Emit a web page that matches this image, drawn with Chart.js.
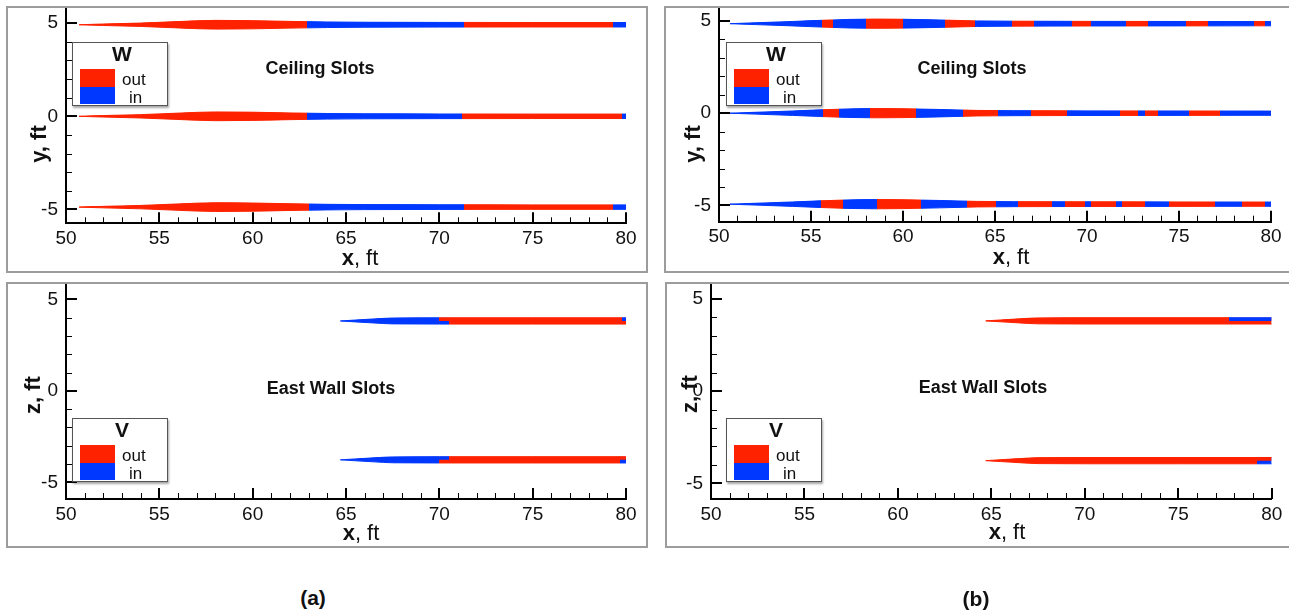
<!DOCTYPE html>
<html>
<head>
<meta charset="utf-8">
<script src="https://cdn.jsdelivr.net/npm/chart.js@4.4.0/dist/chart.umd.min.js"></script>
<style>
  body { margin: 0; width: 1289px; height: 611px; overflow: hidden; background: #fff; position: relative;
         font-family: "Liberation Sans", Arial, sans-serif; color: #111; }
  .box { position: absolute; border: 2px solid #9c9c9c; box-sizing: border-box; }
  canvas { position: absolute; }
  .t { position: absolute; white-space: nowrap; transform: translate(-50%, -50%); line-height: 1; }
  .note { font-weight: bold; font-size: 18px; }
  .xt { font-size: 22px; }
  .yt { font-size: 22px; font-weight: bold; transform: translate(-50%, -50%) rotate(-90deg); }
  .cap { font-weight: bold; font-size: 21px; }
  .legend { position: absolute; width: 96px; height: 64px; border: 1px solid #555; background: #fff;
            box-shadow: 1px 2px 2px rgba(0,0,0,.35); box-sizing: border-box; }
  .legend b { position: absolute; left: 49px; top: 0; transform: translateX(-50%); font-size: 21px; line-height: 21px; }
  .legend i { position: absolute; left: 7px; width: 35px; }
  .legend .out { top: 26px; height: 18px; background: #ff2200; }
  .legend .in { top: 44px; height: 17px; background: #0038ff; }
  .legend span { position: absolute; font-size: 17px; line-height: 17px; }
  .legend .l1 { left: 49px; top: 28px; }
  .legend .l2 { left: 56px; top: 46px; }
</style>
</head>
<body>

<div class="box" style="left:6px;top:6px;width:642px;height:267px"></div>
<div class="box" style="left:6px;top:282px;width:642px;height:266px"></div>
<div class="box" style="left:664px;top:6px;width:640px;height:267px"></div>
<div class="box" style="left:665px;top:282px;width:640px;height:266px"></div>

<canvas id="aTop" width="638" height="263" style="left:8px;top:8px"></canvas>
<canvas id="aBot" width="638" height="262" style="left:8px;top:284px"></canvas>
<canvas id="bTop" width="623" height="263" style="left:666px;top:8px"></canvas>
<canvas id="bBot" width="622" height="262" style="left:667px;top:284px"></canvas>

<div class="t note" style="left:320px;top:68px">Ceiling Slots</div>
<div class="t note" style="left:972px;top:68px">Ceiling Slots</div>
<div class="t note" style="left:331px;top:388px">East Wall Slots</div>
<div class="t note" style="left:983px;top:387px">East Wall Slots</div>

<div class="t yt" style="left:39px;top:144px">y, ft</div>
<div class="t xt" style="left:360px;top:258px"><b>x</b>, ft</div>
<div class="t yt" style="left:33px;top:395px">z, ft</div>
<div class="t xt" style="left:361px;top:533px"><b>x</b>, ft</div>
<div class="t yt" style="left:693px;top:144px">y, ft</div>
<div class="t xt" style="left:1011px;top:257px"><b>x</b>, ft</div>
<div class="t yt" style="left:690px;top:394px">z, ft</div>
<div class="t xt" style="left:1007px;top:532px"><b>x</b>, ft</div>

<div class="legend" style="left:72px;top:42px"><b>W</b><i class="out"></i><i class="in"></i><span class="l1">out</span><span class="l2">in</span></div>
<div class="legend" style="left:726px;top:42px"><b>W</b><i class="out"></i><i class="in"></i><span class="l1">out</span><span class="l2">in</span></div>
<div class="legend" style="left:72px;top:418px"><b>V</b><i class="out"></i><i class="in"></i><span class="l1">out</span><span class="l2">in</span></div>
<div class="legend" style="left:726px;top:418px"><b>V</b><i class="out"></i><i class="in"></i><span class="l1">out</span><span class="l2">in</span></div>

<div class="t cap" style="left:313px;top:597px">(a)</div>
<div class="t cap" style="left:976px;top:598px">(b)</div>

<script>
// slot outlines: x (ft) and half width (ft)
var ceilXa  = [50.7, 52, 54, 56, 58, 60, 62, 64, 66, 70, 75, 80];
var ceilHwA = [0, 0.04, 0.09, 0.17, 0.235, 0.22, 0.18, 0.15, 0.135, 0.125, 0.12, 0.12];
var ceilXb  = [50.6, 52, 54, 55.5, 57, 58.5, 60, 62, 64, 66, 70, 75, 80];
var ceilHwB = [0, 0.05, 0.12, 0.18, 0.23, 0.25, 0.24, 0.2, 0.15, 0.135, 0.125, 0.12, 0.115];
var wallX   = [64.7, 65.5, 66.5, 67.5, 70, 75, 80];
var wallHw  = [0, 0.05, 0.11, 0.16, 0.17, 0.17, 0.17];

// slot centre lines (ft)
var ceilYa = [4.92, 0, -4.88];
var ceilYb = [4.85, 0, -4.93];
var wallZa = [3.82, -3.77];
var wallZb = [3.81, -3.77];

// x (ft) where the flow flips between out and in, along each slot
var aCeilTop = [62.9, 71.3, 79.3];
var aCeilMid = [62.9, 71.2, 79.8];
var aCeilBot = [63.0, 71.3, 79.3];
var aWallUpTop = [70.0, 79.8];
var aWallUpBot = [70.5];
var aWallLoTop = [70.5];
var aWallLoBot = [70.0, 79.7];

var bCeilTop = [55.6, 56.2, 58.0, 60.0, 62.3, 63.9, 65.9, 67.1, 69.2, 70.2, 72.1, 73.3, 75.4, 76.6, 79.1, 79.7];
var bCeilMid = [55.64, 56.53, 58.22, 60.69, 63.27, 65.15, 66.93, 68.91, 71.78, 72.77, 73.13, 73.86, 75.54, 77.23];
var bCeilBot = [55.54, 56.73, 58.61, 60.99, 63.46, 65.05, 66.24, 68.12, 68.81, 69.9, 70.2, 71.58, 71.88, 73.17, 74.45, 76.93, 78.41, 79.7];
var bWallUpTop = [77.7];
var bWallUpBot = [];
var bWallLoTop = [];
var bWallLoBot = [79.2];

var xTicks = [50, 55, 60, 65, 70, 75, 80];
var yTicks = [-5, 0, 5];

var colors = { out: '#ff2200', in: '#0038ff' };

function stripes(flips, first) {
  return function (ctx) {
    var chart = ctx.chart;
    if (!chart.chartArea) return colors[first];
    var x = chart.scales.x;
    var x0 = x.getPixelForValue(50), x1 = x.getPixelForValue(80);
    var g = chart.ctx.createLinearGradient(x0, 0, x1, 0);
    var c = first;
    g.addColorStop(0, colors[c]);
    flips.forEach(function (f) {
      var t = (x.getPixelForValue(f) - x0) / (x1 - x0);
      g.addColorStop(t, colors[c]);
      c = c == 'out' ? 'in' : 'out';
      g.addColorStop(t, colors[c]);
    });
    g.addColorStop(1, colors[c]);
    return g;
  };
}

// three lines per slot: top edge, centre, bottom edge.
// datasets are painted last-to-first, so the bottom edge fills the whole slot
// with the lower colours and the centre line then paints the upper half over it
function slot(xs, hw, yc, upper, lower, first) {
  var edge = function (s) {
    return xs.map(function (x, i) { return { x: x, y: yc + s * hw[i] }; });
  };
  return [
    { data: edge(1), fill: false, borderWidth: 1, borderColor: stripes(upper, first) },
    { data: edge(0), fill: '-1', borderWidth: 0, backgroundColor: stripes(upper, first) },
    { data: edge(-1), fill: '-2', borderWidth: 1, borderColor: stripes(lower, first), backgroundColor: stripes(lower, first) }
  ];
}

var tickMarks = {
  id: 'tickMarks',
  afterDraw: function (chart) {
    var ctx = chart.ctx, a = chart.chartArea, x = chart.scales.x, y = chart.scales.y;
    ctx.save();
    ctx.strokeStyle = '#000';
    for (var v = 50; v <= 80; v++) {
      var major = v % 5 == 0;
      var px = Math.round(x.getPixelForValue(v)) + (major ? 0 : 0.5);
      ctx.lineWidth = major ? 2 : 1;
      ctx.beginPath();
      ctx.moveTo(px, a.bottom);
      ctx.lineTo(px, a.bottom - (major ? 11 : 6));
      ctx.stroke();
    }
    for (var w = Math.ceil(y.min); w <= Math.floor(y.max); w++) {
      var maj = w % 5 == 0;
      var py = Math.round(y.getPixelForValue(w)) + (maj ? 0 : 0.5);
      ctx.lineWidth = maj ? 2 : 1;
      ctx.beginPath();
      ctx.moveTo(a.left, py);
      ctx.lineTo(a.left + (maj ? 11 : 6), py);
      ctx.stroke();
    }
    ctx.restore();
  }
};

function panel(id, sets, g) {
  var cv = document.getElementById(id);
  var cl = parseFloat(cv.style.left), ct = parseFloat(cv.style.top);
  var xAxisH = 30;
  var font = { family: '"Liberation Sans", Arial, sans-serif', size: 19 };
  new Chart(cv, {
    type: 'line',
    data: { datasets: sets },
    options: {
      responsive: false,
      animation: false,
      devicePixelRatio: 1,
      layout: {
        padding: {
          left: 0,
          top: g.top - ct,
          right: cl + cv.width - g.right,
          bottom: ct + cv.height - g.bottom - xAxisH
        }
      },
      elements: {
        line: { cubicInterpolationMode: 'monotone' },
        point: { radius: 0 }
      },
      plugins: { legend: { display: false }, tooltip: { enabled: false } },
      scales: {
        x: {
          type: 'linear', min: 50, max: 80,
          afterBuildTicks: function (s) { s.ticks = xTicks.map(function (v) { return { value: v }; }); },
          ticks: { font: font, color: '#111', padding: 4, maxRotation: 0, autoSkip: false },
          grid: { display: false, drawTicks: false },
          border: { display: true, color: '#000', width: 2 },
          afterFit: function (s) { s.height = xAxisH; s.paddingLeft = 0; s.paddingRight = 0; }
        },
        y: {
          type: 'linear', min: g.ymin, max: g.ymax,
          afterBuildTicks: function (s) { s.ticks = yTicks.map(function (v) { return { value: v }; }); },
          ticks: { font: font, color: '#111', padding: 8, autoSkip: false },
          grid: { display: false, drawTicks: false },
          border: { display: true, color: '#000', width: 2 },
          afterFit: function (s) { s.width = g.left - cl; s.paddingTop = 0; s.paddingBottom = 0; }
        }
      }
    },
    plugins: [tickMarks]
  });
}

panel('aTop', [].concat(
  slot(ceilXa, ceilHwA, ceilYa[0], aCeilTop, aCeilTop, 'out'),
  slot(ceilXa, ceilHwA, ceilYa[1], aCeilMid, aCeilMid, 'out'),
  slot(ceilXa, ceilHwA, ceilYa[2], aCeilBot, aCeilBot, 'out')
), { left: 66, right: 626, top: 8, bottom: 223.3, ymin: -5.75, ymax: 5.82 });

panel('aBot', [].concat(
  slot(wallX, wallHw, wallZa[0], aWallUpTop, aWallUpBot, 'in'),
  slot(wallX, wallHw, wallZa[1], aWallLoTop, aWallLoBot, 'in')
), { left: 66, right: 626, top: 284, bottom: 499, ymin: -5.91, ymax: 5.84 });

panel('bTop', [].concat(
  slot(ceilXb, ceilHwB, ceilYb[0], bCeilTop, bCeilTop, 'in'),
  slot(ceilXb, ceilHwB, ceilYb[1], bCeilMid, bCeilMid, 'in'),
  slot(ceilXb, ceilHwB, ceilYb[2], bCeilBot, bCeilBot, 'in')
), { left: 719, right: 1271, top: 8, bottom: 221.7, ymin: -5.88, ymax: 5.7 });

panel('bBot', [].concat(
  slot(wallX, wallHw, wallZb[0], bWallUpTop, bWallUpBot, 'out'),
  slot(wallX, wallHw, wallZb[1], bWallLoTop, bWallLoBot, 'out')
), { left: 711, right: 1271.7, top: 284, bottom: 499, ymin: -5.85, ymax: 5.81 });
</script>
</body>
</html>
